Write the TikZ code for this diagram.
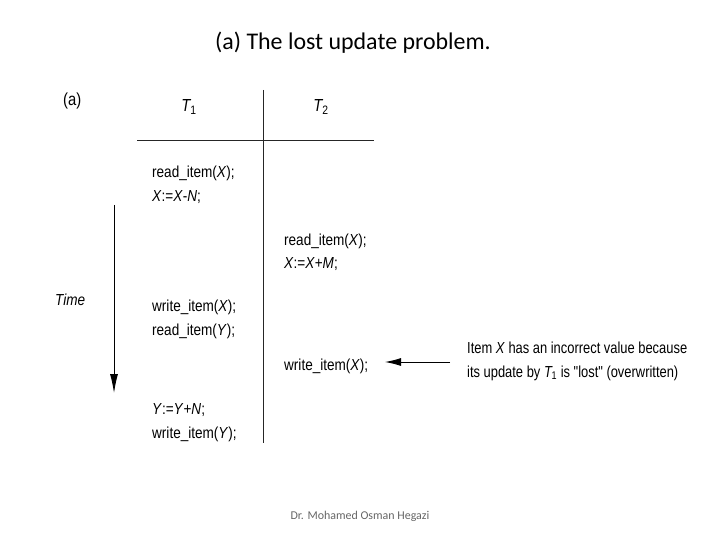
\documentclass[tikz,border=0pt]{standalone}
\usepackage{fontspec}
\setmainfont{Liberation Sans}[Ligatures=NoCommon]
\newfontfamily\nar{Liberation Sans}[FakeStretch=0.85]
\newfontfamily\narx{Liberation Sans}[FakeStretch=0.81]
\newfontfamily\titlefont{Carlito}
\usetikzlibrary{arrows.meta}
\tikzset{
  op/.style={anchor=base west, inner sep=0pt, font=\nar\fontsize{16}{18}\selectfont},
  hdr/.style={anchor=base, inner sep=0pt, font=\nar\fontsize{17.5}{20}\selectfont},
  rule/.style={line width=0.9pt, black!85},
}
\newcommand{\iv}[1]{\textit{#1}}
\begin{document}
\begin{tikzpicture}[x=1bp,y=-1bp]
\useasboundingbox (0,0) rectangle (720,540);
\node[inner sep=0pt, font=\titlefont\fontsize{24}{28}\selectfont] (title) at (353,43) {(a) The lost update problem.};
\node[hdr, anchor=base west] (lbl) at (63,106) {(a)};
\node[hdr] (t1) at (189,112) {\iv{T}\kern-1pt\textsubscript{1}};
\node[hdr] (t2) at (321,112) {\iv{T}\kern-1pt\textsubscript{2}};
\coordinate (hl) at (137,140);
\coordinate (hr) at (374,140);
\coordinate (vt) at (263,90);
\coordinate (vb) at (263,443);
\draw[rule] (hl) -- (hr);
\draw[rule] (vt) -- (vb);
% T1 operations
\node[op] (a1) at (152,178) {read\_item(\iv{X});};
\node[op] (a2) at (152,202) {\iv{X}:=\iv{X}-\iv{N};};
\node[op] (a3) at (152,311) {write\_item(\iv{X});};
\node[op] (a4) at (152,335) {read\_item(\iv{Y});};
\node[op] (a5) at (152,414) {\iv{Y}:=\iv{Y}+\iv{N};};
\node[op] (a6) at (152,438) {write\_item(\iv{Y});};
% T2 operations
\node[op] (b1) at (284,246) {read\_item(\iv{X});};
\node[op] (b2) at (284,269) {\iv{X}:=\iv{X}+\iv{M};};
\node[op] (b3) at (284,370) {write\_item(\iv{X});};
% time
\node[op, font=\nar\itshape\fontsize{16}{18}\selectfont] (time) at (55,305) {Time};
\coordinate (ts) at (114,205);
\coordinate (te) at (114,393);
\draw[line width=0.9pt, -{Latex[length=19bp,width=8bp]}] (ts) -- (te);
% explanation
\node[op, font=\narx\fontsize{16}{18}\selectfont] (e1) at (467,353) {Item \iv{X} has an incorrect value because};
\node[op, font=\narx\fontsize{16}{18}\selectfont] (e2) at (467,377) {its update by \iv{T}\kern-1pt\textsubscript{1} is \symbol{34}lost\symbol{34} (overwritten)};
\coordinate (as) at (450,362);
\coordinate (ae) at (385,362);
\draw[line width=0.9pt, -{Latex[length=16bp,width=8bp]}] (as) -- (ae);
% footer
\node[inner sep=0pt, text=black!60, font=\titlefont\fontsize{12}{14}\selectfont] (foot) at (360,516) {Dr. Mohamed Osman Hegazi};
\end{tikzpicture}
\end{document}
